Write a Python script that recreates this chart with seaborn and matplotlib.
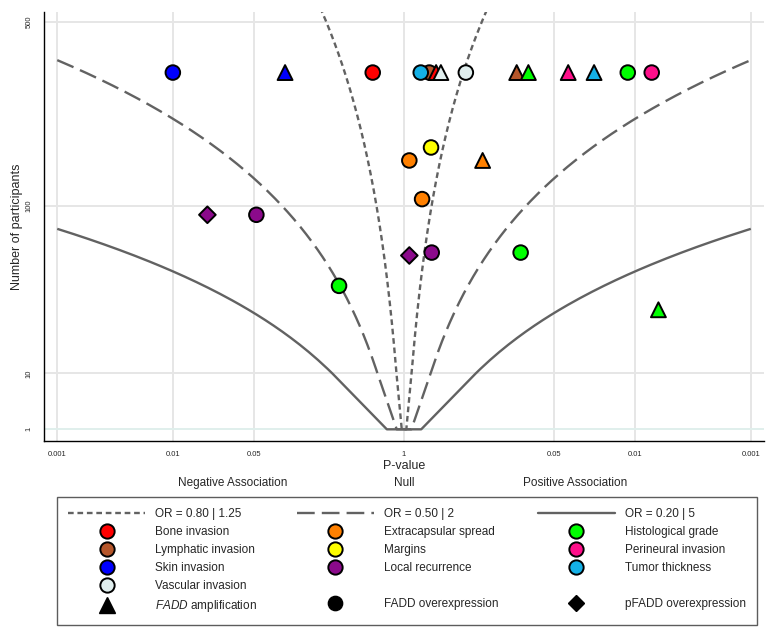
import math
import numpy as np
import pandas as pd
import matplotlib
matplotlib.use("Agg")
import matplotlib.pyplot as plt
from matplotlib.lines import Line2D
from matplotlib.ticker import FixedLocator, NullLocator
import seaborn as sns

# ---------------- data ----------------
characteristic = [
    "Skin invasion", "Skin invasion", "Bone invasion", "Lymphatic invasion",
    "Tumor thickness", "Bone invasion", "Vascular invasion", "Vascular invasion",
    "Lymphatic invasion", "Histological grade", "Perineural invasion",
    "Tumor thickness", "Histological grade", "Perineural invasion",
    "Extracapsular spread", "Margins", "Extracapsular spread", "Extracapsular spread",
    "Local recurrence", "Local recurrence", "Local recurrence", "Local recurrence",
    "Histological grade", "Histological grade", "Histological grade",
]
measure = [
    "over", "amp", "over", "over",
    "over", "amp", "amp", "over",
    "amp", "amp", "amp",
    "amp", "over", "over",
    "over", "over", "amp", "over",
    "pover", "over", "pover", "over",
    "over", "over", "amp",
]
p_value = [
    0.01, 0.0935, 0.536, 0.604,
    0.717, 0.528, 0.48, 0.292,
    0.106, 0.084, 0.038,
    0.0227, 0.0116, 0.0072,
    0.90, 0.584, 0.209, 0.698,
    0.0199, 0.0528, 0.90, 0.576,
    0.098, 0.274, 0.0063,
]
direction = [
    -1, -1, -1, 1,
    1, 1, 1, 1,
    1, 1, 1,
    1, 1, 1,
    1, 1, 1, 1,
    -1, -1, 1, 1,
    1, -1, 1,
]
participants = [
    336, 336, 336, 336,
    336, 336, 336, 336,
    336, 336, 336,
    336, 336, 336,
    156, 176, 156, 107,
    91, 91, 58, 60,
    60, 40, 29,
]

palette = {
    "Bone invasion": "#ff0000",
    "Lymphatic invasion": "#b5562a",
    "Skin invasion": "#0000ff",
    "Vascular invasion": "#e0eeee",
    "Extracapsular spread": "#ff8000",
    "Margins": "#ffff00",
    "Local recurrence": "#8b0a8b",
    "Histological grade": "#00ff00",
    "Perineural invasion": "#ff0f8a",
    "Tumor thickness": "#14b0e6",
}
measure_markers = {"amp": "^", "over": "o", "pover": "D"}
measure_sizes = {"amp": 115, "over": 110, "pover": 72}
measure_labels = {"amp": r"$\it{FADD}$ amplification",
                  "over": "FADD overexpression",
                  "pover": "pFADD overexpression"}

contour_or = [1.25, 2.0, 5.0]
contour_labels = ["OR = 0.80 | 1.25", "OR = 0.50 | 2", "OR = 0.20 | 5"]

x_tick_p = [0.001, 0.01, 0.05, 1, 0.05, 0.01, 0.001]
x_tick_dir = [-1, -1, -1, 0, 1, 1, 1]
x_tick_labels = ["0.001", "0.01", "0.05", "1", "0.05", "0.01", "0.001"]
y_ticks = [1, 10, 100, 500]
y_tick_labels = ["1", "10", "100", "500"]

# ---------------- style ----------------
sns.set_style("white")
plt.rcParams["font.family"] = ["Liberation Sans", "DejaVu Sans"]
plt.rcParams["mathtext.fontset"] = "custom"
plt.rcParams["mathtext.it"] = "Liberation Sans:italic"
plt.rcParams["mathtext.rm"] = "Liberation Sans"

LINE_COL = "#626262"
GRID_COL = "#e6e6e6"
short_dash = (0, (2.4, 1.6))
long_dash = (0, (7.5, 3.0))
line_styles = [short_dash, long_dash, "-"]

df = pd.DataFrame({
    "characteristic": characteristic,
    "measure": measure,
    "p": p_value,
    "direction": direction,
    "n": participants,
})
df["x"] = df["direction"] * -np.log10(df["p"])

fig = plt.figure(figsize=(7.75, 6.35), dpi=100)
ax = fig.add_axes([44.3 / 775, 1 - 441 / 635, (764 - 44.3) / 775, (441 - 11.5) / 635])


def fwd(v):
    v = np.asarray(v, dtype=float)
    l = np.log10(np.clip(v, 1e-9, None))
    return np.sign(l) * l ** 2


def inv(v):
    v = np.asarray(v, dtype=float)
    return 10 ** (np.sign(v) * np.sqrt(np.abs(v)))


ax.set_yscale("function", functions=(fwd, inv))
ax.set_xlim(-3.112, 3.114)
ax.set_ylim(0.349, 542)

# grid
xt = [d * -math.log10(p) if d != 0 else 0.0 for p, d in zip(x_tick_p, x_tick_dir)]
ax.xaxis.set_major_locator(FixedLocator(xt))
ax.set_xticklabels(x_tick_labels)
ax.yaxis.set_major_locator(FixedLocator(y_ticks))
ax.set_yticklabels(y_tick_labels)
ax.yaxis.set_minor_locator(NullLocator())
ax.xaxis.set_minor_locator(NullLocator())
ax.grid(True, color=GRID_COL, linewidth=1.4, zorder=0)
ax.set_axisbelow(True)
ygl = ax.get_ygridlines()
ygl[0].set_color("#e0efec")

# contours (sample sizes 1, then 10, 11, 12, ... up to p = 0.001)
for orv, ls in zip(contour_or, line_styles):
    k = 2 * (1 + math.sqrt(orv)) / orv ** 0.25
    lnor = math.log(orv)
    n_end = min((3.2905 * k / lnor) ** 2, 5000)
    nn = np.concatenate([[1.0], np.arange(10.0, n_end, 1.0), [n_end]])
    z = lnor * np.sqrt(nn) / k
    pp = np.array([math.erfc(v / math.sqrt(2)) for v in z])
    xr = -np.log10(pp)
    xs = np.concatenate([-xr[::-1], xr])
    ys = np.concatenate([nn[::-1], nn])
    ax.plot(xs, ys, color=LINE_COL, linewidth=1.7, linestyle=ls, zorder=2,
            solid_capstyle="butt", dash_capstyle="butt")

# points
sns.scatterplot(data=df, x="x", y="n", hue="characteristic", palette=palette,
                style="measure", markers=measure_markers,
                size="measure", sizes=measure_sizes,
                edgecolor="black", linewidth=1.4, legend=False, ax=ax, zorder=3)

# axes styling
for s in ["top", "right"]:
    ax.spines[s].set_visible(False)
for s in ["left", "bottom"]:
    ax.spines[s].set_color("black")
    ax.spines[s].set_linewidth(1.0)
ax.tick_params(axis="x", length=5, width=1, labelsize=5.5, pad=2.5, color="#333333")
ax.tick_params(axis="y", length=6, width=1, labelsize=5.5, pad=2.5, color="#333333",
               labelrotation=90)
for lab in ax.get_yticklabels():
    lab.set_va("center")
ax.set_xlabel("P-value", fontsize=9)
ax.xaxis.set_label_coords(0.5, -0.044)
ax.set_ylabel("Number of participants", fontsize=9)
ax.yaxis.set_label_coords(-0.029, 0.5)

tr = ax.get_xaxis_transform()
ax.text(-1.48, -0.098, "Negative Association", transform=tr, ha="center", va="center", fontsize=8.5)
ax.text(0.0, -0.098, "Null", transform=tr, ha="center", va="center", fontsize=8.5)
ax.text(1.48, -0.098, "Positive Association", transform=tr, ha="center", va="center", fontsize=8.5)

# legend
def circ(c):
    return Line2D([], [], linestyle="", marker="o", markersize=10.3,
                  markerfacecolor=c, markeredgecolor="black", markeredgewidth=1.4)


blank = Line2D([], [], linestyle="", marker=None)
lines_h = [Line2D([], [], color=LINE_COL, linewidth=1.7, linestyle=ls) for ls in line_styles]
shape_h = {
    "amp": Line2D([], [], linestyle="", marker="^", markersize=11, markerfacecolor="black",
                  markeredgecolor="black"),
    "over": Line2D([], [], linestyle="", marker="o", markersize=10.3, markerfacecolor="black",
                   markeredgecolor="black"),
    "pover": Line2D([], [], linestyle="", marker="D", markersize=8.3, markerfacecolor="black",
                    markeredgecolor="black"),
}
col1 = ["Bone invasion", "Lymphatic invasion", "Skin invasion", "Vascular invasion"]
col2 = ["Extracapsular spread", "Margins", "Local recurrence", None]
col3 = ["Histological grade", "Perineural invasion", "Tumor thickness", None]
handles, labels = [], []
for ci, (col, meas) in enumerate(zip([col1, col2, col3], ["amp", "over", "pover"])):
    handles.append(lines_h[ci]); labels.append(contour_labels[ci])
    for name in col:
        if name is None:
            handles.append(blank); labels.append("")
        else:
            handles.append(circ(palette[name])); labels.append(name)
    handles.append(shape_h[meas]); labels.append(measure_labels[meas])

leg = fig.legend(handles, labels, ncol=3, loc="upper left",
                 bbox_to_anchor=(57 / 775, 1 - 625 / 635, 700 / 775, 128 / 635),
                 mode="expand", fontsize=8.5, frameon=True, fancybox=False,
                 edgecolor="#333333", handlelength=6.5, handletextpad=0.85,
                 borderpad=0.95, labelspacing=0.5, borderaxespad=0.0)
leg.get_frame().set_linewidth(1.0)

fig.savefig("out.png", dpi=100)
